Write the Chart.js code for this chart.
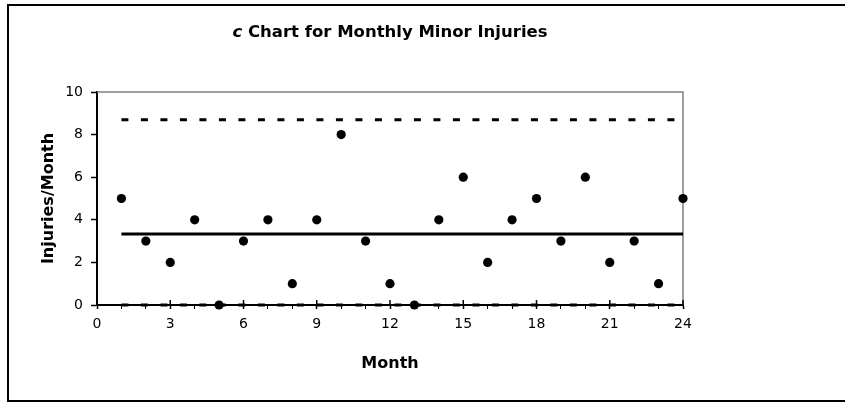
<!DOCTYPE html>
<html>
<head>
<meta charset="utf-8">
<script src="https://cdn.jsdelivr.net/npm/chart.js@4"></script>
<style>
  html, body { margin: 0; padding: 0; background: #fff; overflow: hidden; }
  #frame { position: absolute; left: 7px; top: 4px; width: 845px; height: 394px; border: 2px solid #000; border-right: none; }
  #chart-wrap { position: relative; width: 836px; height: 394px; }
</style>
</head>
<body>
<div id="frame"><div id="chart-wrap"><canvas id="c-chart" width="836" height="394"></canvas></div></div>
<script>
// data
const months = [1, 2, 3, 4, 5, 6, 7, 8, 9, 10, 11, 12, 13, 14, 15, 16, 17, 18, 19, 20, 21, 22, 23, 24];
const injuries = [5, 3, 2, 4, 0, 3, 4, 1, 4, 8, 3, 1, 0, 4, 6, 2, 4, 5, 3, 6, 2, 3, 1, 5];
const center_line = 3.33;
const upper_limit = 8.7;
const lower_limit = 0;
const limit_span = [1, 24];
const x_tick_labels = [0, 3, 6, 9, 12, 15, 18, 21, 24];
const y_tick_labels = [0, 2, 4, 6, 8, 10];

const title_italic = 'c';
const title_rest = ' Chart for Monthly Minor Injuries';
const font_family = '"DejaVu Sans", Verdana, sans-serif';

const points = months.map(function (m, i) { return { x: m, y: injuries[i] }; });
const limitLine = function (v) { return limit_span.map(function (m) { return { x: m, y: v }; }); };

// title with italic "c", plot frame (top/right in grey), major ticks crossing the x axis
const decorations = {
  id: 'decorations',
  beforeDatasetsDraw: function (chart) {
    var ctx = chart.ctx, a = chart.chartArea;
    ctx.save();
    ctx.strokeStyle = '#808080';
    ctx.lineWidth = 1.5;
    ctx.beginPath();
    ctx.moveTo(a.left, a.top);
    ctx.lineTo(a.right, a.top);
    ctx.lineTo(a.right, a.bottom);
    ctx.stroke();

    var xs = chart.scales.x;
    ctx.strokeStyle = '#000';
    ctx.lineWidth = 1.5;
    x_tick_labels.forEach(function (v) {
      var px = xs.getPixelForValue(v);
      ctx.beginPath();
      ctx.moveTo(px, a.bottom - 5);
      ctx.lineTo(px, a.bottom);
      ctx.stroke();
    });
    ctx.restore();
  },
  afterDraw: function (chart) {
    var ctx = chart.ctx, a = chart.chartArea;
    ctx.save();
    ctx.fillStyle = '#000';
    ctx.textBaseline = 'middle';
    ctx.font = 'italic bold 16.5px ' + font_family;
    var w1 = ctx.measureText(title_italic).width;
    ctx.font = 'bold 16.5px ' + font_family;
    var w2 = ctx.measureText(title_rest).width;
    var x0 = (a.left + a.right) / 2 - (w1 + w2) / 2;
    ctx.font = 'italic bold 16.5px ' + font_family;
    ctx.fillText(title_italic, x0, 27);
    ctx.font = 'bold 16.5px ' + font_family;
    ctx.fillText(title_rest, x0 + w1, 27);
    ctx.restore();
  }
};

new Chart(document.getElementById('c-chart'), {
  type: 'scatter',
  data: {
    datasets: [
      {
        label: 'Injuries',
        data: points,
        backgroundColor: '#000',
        borderColor: '#000',
        pointRadius: 4.6,
        pointBorderWidth: 0,
        showLine: false,
        clip: false
      },
      {
        label: 'Center line',
        type: 'line',
        data: limitLine(center_line),
        borderColor: '#000',
        borderWidth: 3,
        pointRadius: 0,
        fill: false
      },
      {
        label: 'UCL',
        type: 'line',
        data: limitLine(upper_limit),
        borderColor: '#000',
        borderWidth: 3,
        borderDash: [7, 12.5],
        borderCapStyle: 'butt',
        pointRadius: 0,
        fill: false
      },
      {
        label: 'LCL',
        type: 'line',
        data: limitLine(lower_limit),
        borderColor: '#000',
        borderWidth: 3,
        borderDash: [7, 12.5],
        borderCapStyle: 'butt',
        pointRadius: 0,
        fill: false,
        clip: false
      }
    ]
  },
  options: {
    responsive: false,
    animation: false,
    events: [],
    layout: { padding: { left: 0, top: 86, right: 162, bottom: 0 } },
    plugins: {
      legend: { display: false },
      tooltip: { enabled: false },
      title: { display: false }
    },
    scales: {
      x: {
        type: 'linear',
        min: 0,
        max: 24,
        afterFit: function (scale) { scale.height = 95; },
        border: { display: true, color: '#000', width: 2 },
        grid: {
          drawOnChartArea: false,
          tickLength: 4,
          tickColor: '#000',
          tickWidth: function (c) { return c.tick && x_tick_labels.includes(c.tick.value) ? 1.5 : 1; }
        },
        ticks: {
          stepSize: 1,
          autoSkip: false,
          maxRotation: 0,
          padding: 7,
          color: '#000',
          font: { family: font_family, size: 14 },
          callback: function (v) { return x_tick_labels.includes(v) ? String(v) : ''; }
        },
        title: {
          display: true,
          text: 'Month',
          color: '#000',
          font: { family: font_family, size: 16, weight: 'bold' },
          padding: { top: 0, bottom: 27 }
        }
      },
      y: {
        min: 0,
        max: 10,
        afterFit: function (scale) { scale.width = 88; },
        border: { display: true, color: '#000', width: 2 },
        grid: { drawOnChartArea: false, tickLength: 6, tickColor: '#000', tickWidth: 1.5 },
        ticks: {
          stepSize: 2,
          padding: 8,
          color: '#000',
          font: { family: font_family, size: 14 },
          callback: function (v) { return y_tick_labels.includes(v) ? String(v) : ''; }
        },
        title: {
          display: true,
          text: 'Injuries/Month',
          color: '#000',
          font: { family: font_family, size: 16, weight: 'bold' },
          padding: { top: 30, bottom: 0 }
        }
      }
    }
  },
  plugins: [decorations]
});
</script>
</body>
</html>
